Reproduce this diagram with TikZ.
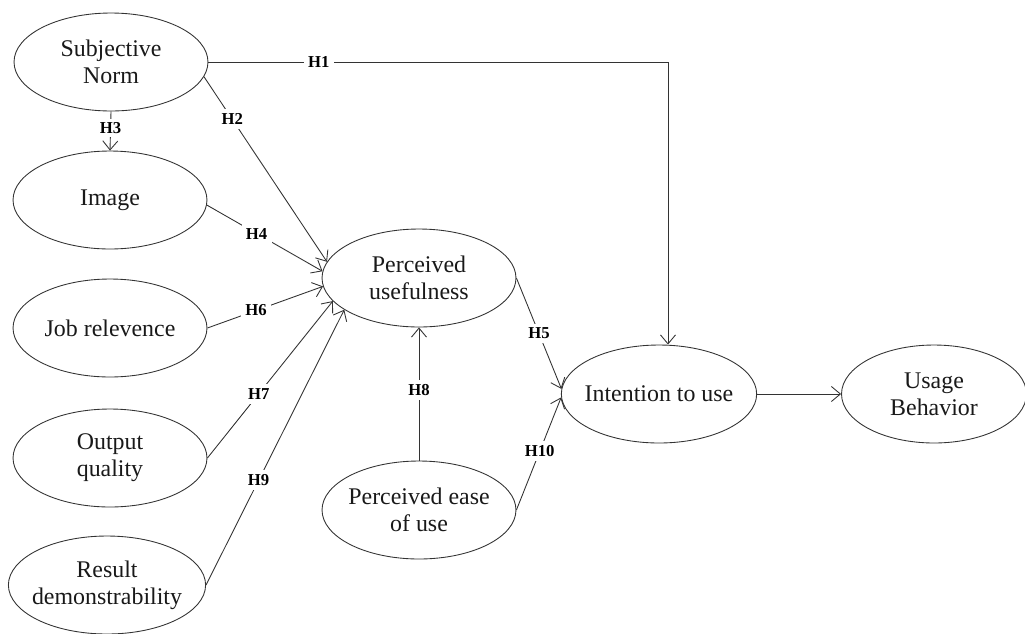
\documentclass[tikz,border=0pt]{standalone}
\usepackage{fontspec}
\setmainfont{Liberation Serif}
\usetikzlibrary{arrows.meta}
\usetikzlibrary{shapes}
\tikzstyle{construct}=[ellipse,draw=black!80,line width=0.5pt,minimum width=3.88cm,
                minimum height=1.96cm,inner sep=0pt,inner xsep=-3pt,align=center,text=black!90,
                font=\fontsize{13.6}{15.5}\selectfont]
\tikzstyle{hyp}=[draw=black!80,line width=0.5pt,-{Straight Barb[length=1.8mm,width=3mm]}]
\tikzstyle{hlabel}=[fill=white,inner sep=2.5pt,text=black,font=\bfseries\fontsize{9.5}{11}\selectfont]

\begin{document}
\begin{tikzpicture}[x=0.02cm,y=-0.02cm]
\useasboundingbox (0,0) rectangle (1025,633);
\node[construct] (sn) at (111,62) {Subjective\\Norm};
\node[construct] (img) at (110,200) {Image};
\node[construct] (job) at (110,328) {Job relevence};
\node[construct] (oq) at (110,458) {Output\\quality};
\node[construct] (rd) at (107,585) {Result\\demonstrability};
\node[construct] (pu) at (419,278) {Perceived\\usefulness};
\node[construct] (peu) at (419,510) {Perceived ease\\of use};
\node[construct] (itu) at (659,394) {Intention to use};
\node[construct,minimum width=3.7cm] (ub) at (934,394) {Usage\\Behavior};

% hypotheses
\draw[hyp] (sn.east) -| ([xshift=0.18cm]itu.north) node[hlabel,pos=0.12] {H1};
\draw[hyp] (sn.-9) -- (pu.170) node[hlabel,pos=0.23] {H2};
\draw[hyp] (sn.south) -- (img.north) node[hlabel,pos=0.42,inner sep=2pt] {H3};
\draw[hyp] (img.-3) -- (pu.176) node[hlabel,pos=0.43] {H4};
\draw[hyp] (job.east) -- (pu.185) node[hlabel,pos=0.42] {H6};
\draw[hyp] (oq.east) -- (pu.195) node[hlabel,pos=0.41] {H7};
\draw[hyp] (rd.east) -- (pu.203) node[hlabel,pos=0.38] {H9};
\draw[hyp] (pu.east) -- (itu.177) node[hlabel,pos=0.5] {H5};
\draw[hyp] (peu.north) -- (pu.south) node[hlabel,pos=0.53] {H8};
\draw[hyp] (peu.east) -- (itu.182) node[hlabel,pos=0.52] {H10};
\draw[hyp] (itu.east) -- (ub.west);
\end{tikzpicture}
\end{document}
